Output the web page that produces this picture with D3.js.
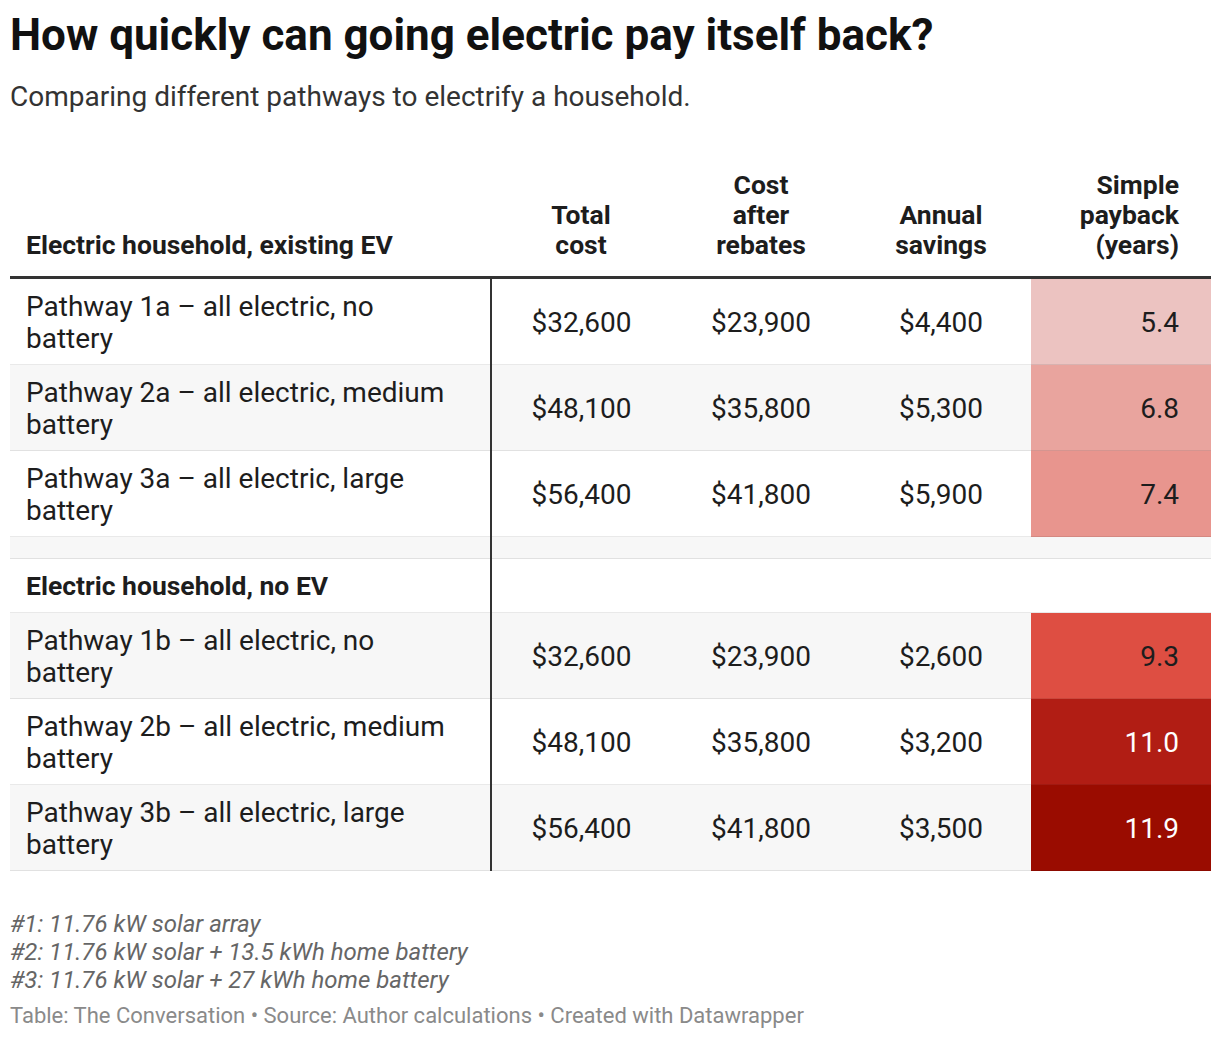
<!DOCTYPE html>
<html>
<head>
<meta charset="utf-8">
<script src="https://cdn.jsdelivr.net/npm/d3@7"></script>
<style>
  html, body { margin: 0; padding: 0; background: #fff; }
  body { font-family: Roboto, "Noto Sans", sans-serif; color: #1d1d1d; width: 1220px; height: 1040px; position: relative; overflow: hidden; }
  #title { position: absolute; left: 10px; top: 10px; font-size: 44px; line-height: 50px; font-weight: 700; color: #111; white-space: nowrap; }
  #subtitle { position: absolute; left: 10px; top: 81px; font-size: 28px; line-height: 32px; color: #333; white-space: nowrap; }
  table { position: absolute; left: 10px; top: 170px; width: 1200px; border-collapse: collapse; table-layout: fixed; }
  th { font-size: 26.5px; line-height: 30px; font-weight: 700; color: #1d1d1d; vertical-align: bottom; padding: 0 0 16px 0; border-bottom: 3px solid #333; height: 90px; box-sizing: content-box; }
  th .w { display: inline-block; width: min-content; }
  td { font-size: 28px; line-height: 32px; padding: 0; border-bottom: 1px solid rgba(0,0,0,0.085); vertical-align: middle; }
  td.first { padding-left: 16px; padding-right: 35px; border-right: 2px solid #333; }
  tr.data td { height: 83px; padding-top: 2px; }
  tr.spacer td { height: 21px; }
  tr.group td { height: 53px; font-size: 26.5px; font-weight: 700; }
  tr.odd td { background: #f7f7f7; }
  td.num { text-align: center; }
  td.heat { text-align: right; padding-right: 32px; }
  #notes { position: absolute; left: 10px; top: 910px; font-size: 24px; line-height: 28px; font-style: italic; color: #666; white-space: nowrap; }
  #footer { position: absolute; left: 10px; top: 1002px; font-size: 22px; line-height: 28px; color: #8a8a8a; white-space: nowrap; }
</style>
</head>
<body>
<div id="title"></div>
<div id="subtitle"></div>
<table id="tbl"></table>
<div id="notes"></div>
<div id="footer"></div>
<script>
// ---- data ----
const titleText = "How quickly can going electric pay itself back?";
const subtitleText = "Comparing different pathways to electrify a household.";
const groups = ["Electric household, existing EV", "Electric household, no EV"];
const columns = ["Total cost", "Cost after rebates", "Annual savings", "Simple payback (years)"];
const pathways = [
  "Pathway 1a – all electric, no battery",
  "Pathway 2a – all electric, medium battery",
  "Pathway 3a – all electric, large battery",
  "Pathway 1b – all electric, no battery",
  "Pathway 2b – all electric, medium battery",
  "Pathway 3b – all electric, large battery"
];
const groupOf = [0, 0, 0, 1, 1, 1];
const totalCost = [32600, 48100, 56400, 32600, 48100, 56400];
const costAfterRebates = [23900, 35800, 41800, 23900, 35800, 41800];
const annualSavings = [4400, 5300, 5900, 2600, 3200, 3500];
const payback = [5.4, 6.8, 7.4, 9.3, 11.0, 11.9];
const notes = [
  "#1: 11.76 kW solar array",
  "#2: 11.76 kW solar + 13.5 kWh home battery",
  "#3: 11.76 kW solar + 27 kWh home battery"
];
const footerText = "Table: The Conversation • Source: Author calculations • Created with Datawrapper";

// ---- scales ----
const heatStops = [5.4, 6.8, 7.4, 9.3, 11.0, 11.9];
const heatColors = ["#ecc3c1", "#e9a49e", "#e8958e", "#de4e42", "#b11d14", "#9a0c00"];
const color = d3.scaleLinear().domain(heatStops).range(heatColors).interpolate(d3.interpolateRgb);
const textColor = v => d3.hsl(color(v)).l < 0.5 ? "#ffffff" : "#1d1d1d";
const money = v => "$" + d3.format(",")(v);
const dec = d3.format(".1f");

d3.select("#title").text(titleText);
d3.select("#subtitle").text(subtitleText);

const tbl = d3.select("#tbl");
const cg = tbl.append("colgroup");
cg.append("col").style("width", "481px");
columns.forEach(() => cg.append("col").style("width", "180px"));

// header
const hr = tbl.append("thead").append("tr");
hr.append("th").style("text-align", "left").style("padding-left", "16px")
  .append("span").text(groups[0]);
hr.selectAll("th.c").data(columns).enter().append("th").attr("class", "c")
  .style("text-align", (d, i) => i === columns.length - 1 ? "right" : "center")
  .style("padding-right", (d, i) => i === columns.length - 1 ? "32px" : "0px")
  .append("span").attr("class", "w")
  .style("text-align", (d, i) => i === columns.length - 1 ? "right" : "center")
  .text(d => d);

// body rows
const rows = [];
pathways.forEach((p, i) => {
  if (i > 0 && groupOf[i] !== groupOf[i - 1]) {
    rows.push({ type: "spacer" });
    rows.push({ type: "group", label: groups[groupOf[i]] });
  }
  rows.push({ type: "data", i });
});

const tb = tbl.append("tbody");
const tr = tb.selectAll("tr").data(rows).enter().append("tr")
  .attr("class", (d, k) => d.type + (k % 2 === 1 ? " odd" : ""));

tr.each(function (d) {
  const row = d3.select(this);
  if (d.type === "data") {
    const i = d.i;
    row.append("td").attr("class", "first").text(pathways[i]);
    [totalCost[i], costAfterRebates[i], annualSavings[i]].forEach(v => {
      row.append("td").attr("class", "num").text(money(v));
    });
    row.append("td").attr("class", "heat")
      .style("background", color(payback[i]))
      .style("color", textColor(payback[i]))
      .text(dec(payback[i]));
  } else if (d.type === "spacer") {
    row.append("td").attr("class", "first");
    row.append("td").attr("colspan", 4);
  } else {
    row.append("td").attr("class", "first").text(d.label);
    row.append("td").attr("colspan", 4).style("font-weight", "400");
  }
});

d3.select("#notes").selectAll("div").data(notes).enter().append("div").text(d => d);
d3.select("#footer").text(footerText);
</script>
</body>
</html>
